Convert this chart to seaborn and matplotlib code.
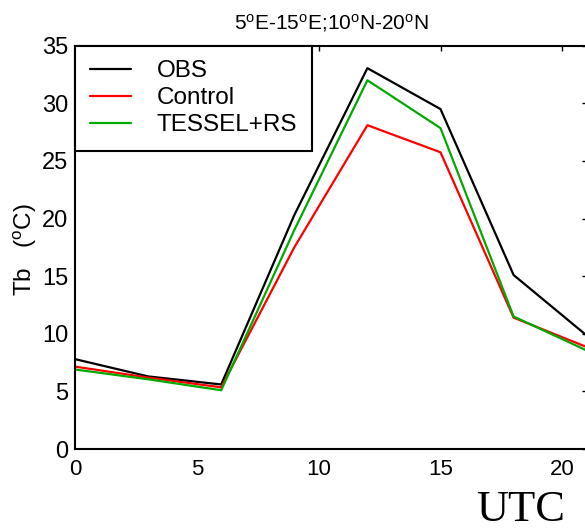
import numpy as np
import pandas as pd
import seaborn as sns
import matplotlib
matplotlib.use("Agg")
import matplotlib.pyplot as plt

# ---- data ----
utc = [0, 3, 6, 9, 12, 15, 18, 21]
obs = [7.8, 6.3, 5.6, 20.3, 33.05, 29.5, 15.1, 9.85]
control = [7.15, 6.2, 5.35, 17.5, 28.1, 25.75, 11.4, 8.85]
tessel = [6.9, 6.05, 5.1, 19.0, 32.0, 27.85, 11.5, 8.55]
series_names = ["OBS", "Control", "TESSEL+RS"]
colors = ["#000000", "#ff0000", "#00aa00"]
xticks = [0, 5, 10, 15, 20]
yticks = [0, 5, 10, 15, 20, 25, 30, 35]
title = "5$^{\\rm o}$E-15$^{\\rm o}$E;10$^{\\rm o}$N-20$^{\\rm o}$N"
ylabel = "Tb   ($^{\\rm o}$C)"
xlabel = "UTC"

sns.set_style("white")
plt.rcParams["font.family"] = ["Liberation Sans", "DejaVu Sans"]
plt.rcParams["text.color"] = "black"
plt.rcParams["axes.labelcolor"] = "black"
plt.rcParams["xtick.color"] = "black"
plt.rcParams["ytick.color"] = "black"
plt.rcParams["mathtext.fontset"] = "custom"
plt.rcParams["mathtext.rm"] = "Liberation Sans"
plt.rcParams["mathtext.it"] = "Liberation Sans:italic"
plt.rcParams["mathtext.bf"] = "Liberation Sans:bold"

df = pd.DataFrame({
    "UTC": utc * 3,
    "Tb": obs + control + tessel,
    "series": np.repeat(series_names, len(utc)),
})

W, H = 585, 531
fig = plt.figure(figsize=(W / 100, H / 100), dpi=100)
ax = fig.add_axes([75 / W, 82 / H, 511.7 / W, 403.3 / H])

sns.lineplot(data=df, x="UTC", y="Tb", hue="series", hue_order=series_names,
             palette=colors, linewidth=1.6, ax=ax, legend=True)

ax.set_xlim(0, 21)
ax.set_ylim(0, 35)
ax.set_xticks(xticks)
ax.set_yticks(yticks)
ax.set_xlabel("")
ax.set_ylabel("")
for s in ax.spines.values():
    s.set_linewidth(1.5)
    s.set_color("black")
ax.tick_params(direction="in", length=3.8, width=1.0, top=True, right=True,
               colors="black", labelcolor="black")
ax.tick_params(axis="y", labelsize=17, pad=5)
ax.tick_params(axis="x", labelsize=16, pad=7)

leg = ax.get_legend()
handles = leg.legend_handles
labels = [t.get_text() for t in leg.get_texts()]
leg.remove()
for h in handles:
    h.set_linewidth(1.6)
lg = ax.legend(handles, labels, loc="upper left", bbox_to_anchor=(0, 1),
               borderaxespad=0, fontsize=17.5, frameon=True, fancybox=False,
               handlelength=1.7, handletextpad=1.05, borderpad=0.6,
               labelspacing=0.2)
lg.get_frame().set_edgecolor("black")
lg.get_frame().set_linewidth(1.5)
lg.get_frame().set_alpha(1)
for t in lg.get_texts():
    t.set_color("black")

fig.text(331 / W, 1 - 29 / H, title, ha="center", va="baseline", fontsize=15,
         color="black")
fig.text(25 / W, 1 - 250 / H, ylabel, ha="center", va="center",
         rotation=90, fontsize=17.5, color="black")
fig.text(521 / W, 10 / H, xlabel, ha="center", va="baseline",
         fontsize=32, family="Liberation Serif", color="black")

fig.savefig("out.png", dpi=100)
